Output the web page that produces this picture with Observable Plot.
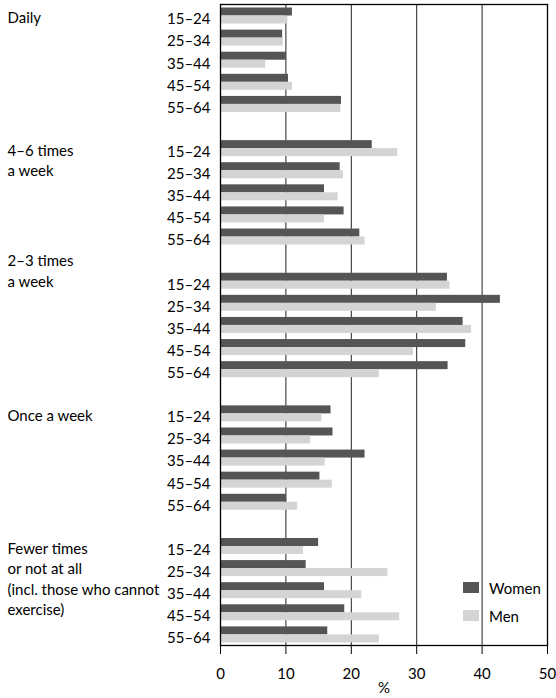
<!DOCTYPE html>
<html>
<head>
<meta charset="utf-8">
<script src="https://cdn.jsdelivr.net/npm/d3@7"></script>
<script src="https://cdn.jsdelivr.net/npm/@observablehq/plot@0.6"></script>
<style>
  html, body { margin: 0; padding: 0; background: #fff; }
  #wrap { position: relative; width: 556px; height: 698px; font-family: Lato, sans-serif; }
  #legend { position: absolute; left: 463px; top: 579px; font-size: 15px; color: #000; }
  .item { display: flex; align-items: center; height: 17px; margin-bottom: 11px; }
  .sw { width: 16px; height: 11px; margin-right: 10px; }
</style>
</head>
<body>
<div id="wrap"></div>
<script>
const groups = ["Daily", "4–6 times a week", "2–3 times a week", "Once a week", "Fewer times or not at all"];
const groupLabels = ["Daily", "4–6 times\na week", "2–3 times\na week", "Once a week", "Fewer times\nor not at all\n(incl. those who cannot\nexercise)"];
const ages = ["15–24", "25–34", "35–44", "45–54", "55–64"];
const series = ["Women", "Men"];
const colors = ["#555555", "#d4d4d4"];
const women = [
  [11.0, 9.5, 10.1, 10.4, 18.5],
  [23.2, 18.3, 15.9, 18.9, 21.3],
  [34.7, 42.8, 37.1, 37.5, 34.8],
  [16.9, 17.2, 22.1, 15.2, 10.1],
  [15.0, 13.1, 15.9, 19.0, 16.4]
];
const men = [
  [10.3, 9.6, 6.9, 11.0, 18.4],
  [27.1, 18.8, 18.0, 15.9, 22.1],
  [35.1, 33.0, 38.4, 29.5, 24.3],
  [15.5, 13.8, 16.0, 17.1, 11.8],
  [12.7, 25.6, 21.6, 27.4, 24.3]
];
// the "2–3 times a week" label starts on the blank row above its first age row
const labelStartsBefore = [false, false, true, false, false];
const xTicks = [0, 10, 20, 30, 40, 50];
const gridTicks = [10, 20, 30, 40];

// row keys, with a blank separator row between groups
const rowKeys = [];
const rowAge = new Map();
groups.forEach((g, gi) => {
  if (gi > 0) { const k = "gap" + gi; rowKeys.push(k); rowAge.set(k, ""); }
  ages.forEach(a => { const k = g + "|" + a; rowKeys.push(k); rowAge.set(k, a); });
});

const records = [];
groups.forEach((g, gi) => {
  ages.forEach((a, ai) => {
    records.push({row: g + "|" + a, sex: "Women", value: women[gi][ai]});
    records.push({row: g + "|" + a, sex: "Men", value: men[gi][ai]});
  });
});

const labels = groups.map((g, gi) => ({
  row: labelStartsBefore[gi] ? "gap" + gi : g + "|" + ages[0],
  text: groupLabels[gi]
}));

const chart = Plot.plot({
  width: 556,
  height: 698,
  marginLeft: 220,
  marginRight: 9,
  marginTop: 4,
  marginBottom: 53,
  style: {fontFamily: "Lato, sans-serif", fontSize: "15px", color: "#000", background: "#fff"},
  x: {domain: [0, 50]},
  y: {domain: rowKeys, padding: 0, round: false},
  marks: [
    Plot.ruleX(gridTicks, {stroke: "#222", strokeWidth: 1}),
    Plot.barX(records.filter(d => d.sex === "Women"), {x: "value", y: "row", fill: colors[0], insetTop: 3.5, insetBottom: 10.6}),
    Plot.barX(records.filter(d => d.sex === "Men"), {x: "value", y: "row", fill: colors[1], insetTop: 11.5, insetBottom: 2.6}),
    Plot.frame({stroke: "#000", strokeWidth: 1.3}),
    Plot.axisY({tickSize: 0, tickPadding: 10, tickFormat: k => rowAge.get(k), fontSize: 15, dy: 4, label: null}),
    Plot.axisX({ticks: xTicks, tickSize: 9, tickPadding: 14, fontSize: 15, label: "%", labelAnchor: "center", labelArrow: "none", labelOffset: 47.5}),
    Plot.text(labels, {y: "row", text: "text", frameAnchor: "left", dx: -213, textAnchor: "start", lineAnchor: "top", lineHeight: 1.37, fontSize: 15, dy: -7, fill: "#000"})
  ]
});

const wrap = document.getElementById("wrap");
wrap.appendChild(chart);
const legend = document.createElement("div");
legend.id = "legend";
series.forEach((s, i) => {
  const item = document.createElement("div");
  item.className = "item";
  const sw = document.createElement("span");
  sw.className = "sw";
  sw.style.background = colors[i];
  const t = document.createElement("span");
  t.textContent = s;
  item.appendChild(sw);
  item.appendChild(t);
  legend.appendChild(item);
});
wrap.appendChild(legend);
</script>
</body>
</html>
